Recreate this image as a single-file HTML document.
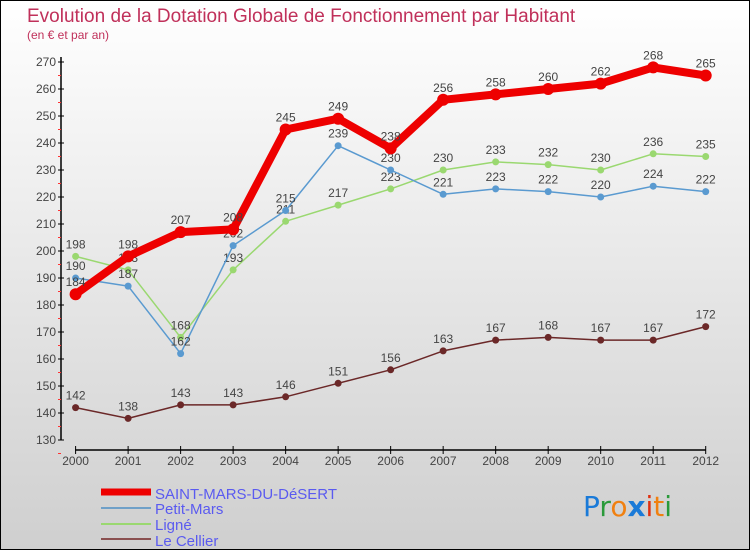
<!DOCTYPE html>
<html><head><meta charset="utf-8"><style>
html,body{margin:0;padding:0}
body{width:750px;height:550px;overflow:hidden;font-family:"Liberation Sans",sans-serif}
#wrap{position:absolute;left:0;top:0;width:748px;height:548px;border:1px solid #000;background:linear-gradient(#ffffff,#cfcfcf)}
</style></head><body>
<div id="wrap">
<svg id="chart" width="750" height="550" style="position:absolute;left:-1px;top:-1px">
<text x="27" y="22" font-size="19" fill="#c0305a">Evolution de la Dotation Globale de Fonctionnement par Habitant</text>
<text x="27" y="39" font-size="12" fill="#c0305a">(en € et par an)</text>
<g id="axes"></g><g id="series"></g>
<g>
<line x1="101" y1="492" x2="151" y2="492" stroke="#e00" stroke-width="7"/>
<text x="155" y="499" font-size="15" fill="#5a5af0" textLength="182" lengthAdjust="spacingAndGlyphs">SAINT-MARS-DU-DéSERT</text>
<line x1="101" y1="508" x2="151" y2="508" stroke="#6fa0c8" stroke-width="2"/>
<text x="155" y="514" font-size="15" fill="#5a5af0">Petit-Mars</text>
<line x1="101" y1="524" x2="151" y2="524" stroke="#9ad870" stroke-width="2"/>
<text x="155" y="530" font-size="15" fill="#5a5af0">Ligné</text>
<line x1="101" y1="539" x2="151" y2="539" stroke="#8a5050" stroke-width="2"/>
<text x="155" y="546" font-size="15" fill="#5a5af0">Le Cellier</text>
</g>
<g font-size="28" font-family="'DejaVu Sans',sans-serif">
<text x="583" y="516"><tspan fill="#1a7ad8">P</tspan><tspan fill="#2a9a3a">r</tspan><tspan fill="#f08010">o</tspan><tspan fill="#1a7ad8" font-weight="bold">x</tspan><tspan fill="#e03010">i</tspan><tspan fill="#f08010">t</tspan><tspan fill="#2a9a3a">i</tspan></text>
</g>
</svg></div>
<script>
const years=[2000,2001,2002,2003,2004,2005,2006,2007,2008,2009,2010,2011,2012];
const yTicks=[130,140,150,160,170,180,190,200,210,220,230,240,250,260,270];
const saintMars=[184,198,207,208,245,249,238,256,258,260,262,268,265];
const petitMars=[190,187,162,202,215,239,230,221,223,222,220,224,222];
const ligne=[198,193,168,193,211,217,223,230,233,232,230,236,235];
const leCellier=[142,138,143,143,146,151,156,163,167,168,167,167,172];
const NS="http://www.w3.org/2000/svg";
const xS=i=>75.6+i*(705.7-75.6)/(years.length-1);
const yS=v=>440-(v-130)*2.7;
function mk(t,a,p){const e=document.createElementNS(NS,t);for(const k in a)e.setAttribute(k,a[k]);p.appendChild(e);return e;}
const ax=document.getElementById('axes');
const yAxis=mk('line',{x1:61,y1:57,x2:61,y2:440,stroke:'#000','stroke-width':1.5},ax);


yTicks.forEach(v=>{
 mk('line',{x1:58,y1:yS(v),x2:64,y2:yS(v),stroke:'#000'},ax);
 mk('line',{x1:58,y1:yS(v)+13.5,x2:61,y2:yS(v)+13.5,stroke:'#f33'},ax);
 const t=mk('text',{x:56,y:yS(v)+4,'font-size':12,fill:'#444','text-anchor':'end'},ax);t.textContent=v;
 
 
});
const xAxis=mk('line',{x1:75,y1:450,x2:706,y2:450,stroke:'#000','stroke-width':1.5},ax);


years.forEach((y,i)=>{
 mk('line',{x1:xS(i),y1:446,x2:xS(i),y2:454,stroke:'#000'},ax);
 const t=mk('text',{x:xS(i),y:465,'font-size':12,fill:'#444','text-anchor':'middle'},ax);t.textContent=y;
 
 
});
const sg=document.getElementById('series');
function draw(vals,name,color,w,r,labelColor){
 const g=mk('g',{},sg);
 
 
 const l=mk('polyline',{points:vals.map((v,i)=>xS(i)+','+yS(v)).join(' '),fill:'none',stroke:color,'stroke-width':w,'stroke-linejoin':'round'},g);
 
 
 vals.forEach((v,i)=>{
  const c=mk('circle',{cx:xS(i),cy:yS(v),r:r,fill:color},g);
  
  
  const t=mk('text',{x:xS(i),y:yS(v)-8,'font-size':12,fill:'#444','text-anchor':'middle'},g);t.textContent=v;
  
  
 });
}
draw(leCellier,'le-cellier','#6b2828',1.5,3.5);
draw(ligne,'ligne','#9ad870',1.5,3.5);
draw(petitMars,'petit-mars','#5a9ad0',1.5,3.5);
draw(saintMars,'saint-mars','#ee0000',8,6);
</script>
</body></html>
